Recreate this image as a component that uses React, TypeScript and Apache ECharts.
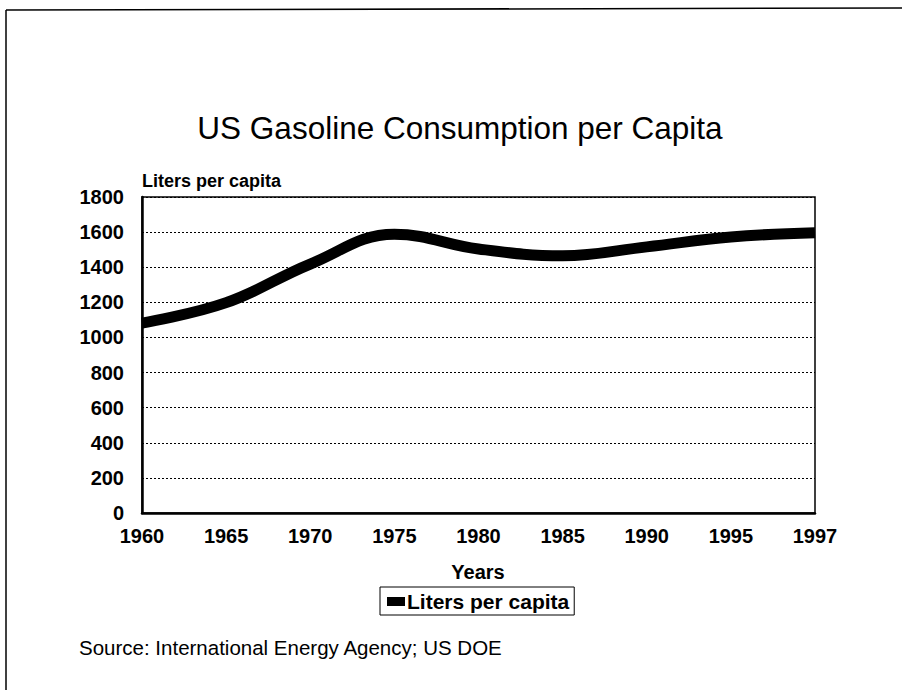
import React, { useEffect, useRef } from "react";
import * as echarts from "echarts";

const years = ["1960", "1965", "1970", "1975", "1980", "1985", "1990", "1995", "1997"];
const litersPerCapita = [1082, 1198, 1418, 1588, 1504, 1465, 1516, 1572, 1597];
const yTicks = { min: 0, max: 1800, interval: 200 };

const FONT = "'Liberation Sans', Arial, Helvetica, sans-serif";

export default function App() {
  const ref = useRef<HTMLDivElement>(null);
  useEffect(() => {
    if (!ref.current) return;
    const chart = echarts.init(ref.current, null, { renderer: "svg" });
    chart.setOption({
      animation: false,
      backgroundColor: "#ffffff",
      textStyle: { fontFamily: FONT, color: "#000" },
      grid: {
        left: 142,
        right: 87,
        top: 197,
        bottom: 177,
        show: true,
        borderColor: "#000",
        borderWidth: 1.5,
        containLabel: false,
      },
      xAxis: {
        type: "category",
        data: years,
        boundaryGap: false,
        axisLine: { show: true, lineStyle: { color: "#000", width: 2.5 } },
        axisTick: { show: false },
        axisLabel: {
          color: "#000",
          fontFamily: FONT,
          fontWeight: "bold",
          fontSize: 20,
          margin: 13,
          interval: 0,
        },
        splitLine: { show: false },
      },
      yAxis: {
        type: "value",
        min: yTicks.min,
        max: yTicks.max,
        interval: yTicks.interval,
        axisLine: { show: true, lineStyle: { color: "#000", width: 2.5 } },
        axisTick: { show: false },
        axisLabel: {
          color: "#000",
          fontFamily: FONT,
          fontWeight: "bold",
          fontSize: 20,
          margin: 18,
          formatter: (v: number) => String(v),
        },
        splitLine: {
          show: true,
          lineStyle: { color: "#000", width: 1, type: [2, 2] },
        },
      },
      legend: {
        show: true,
        left: 380,
        top: 587,
        orient: "horizontal",
        borderColor: "#000",
        borderWidth: 1,
        padding: [4, 5, 3, 7],
        itemWidth: 18,
        itemHeight: 9,
        itemGap: 4,
        icon: "rect",
        textStyle: {
          color: "#000",
          fontFamily: FONT,
          fontWeight: "bold",
          fontSize: 21,
          padding: [0, 0, 0, -3],
        },
        data: ["Liters per capita"],
      },
      series: [
        {
          name: "Liters per capita",
          type: "line",
          data: litersPerCapita,
          smooth: 0.4,
          showSymbol: false,
          symbol: "none",
          lineStyle: { color: "#000", width: 11 },
          itemStyle: { color: "#000" },
        },
      ],
      graphic: [
        {
          type: "line",
          shape: { x1: 6, y1: 10, x2: 902, y2: 8 },
          style: { stroke: "#000", lineWidth: 1.5 },
        },
        {
          type: "line",
          shape: { x1: 6, y1: 10, x2: 6, y2: 690 },
          style: { stroke: "#000", lineWidth: 1.5 },
        },
        {
          type: "text",
          x: 460,
          y: 128,
          style: {
            text: "US Gasoline Consumption per Capita",
            fontFamily: FONT,
            fontSize: 31.5,
            fill: "#000",
            textAlign: "center",
            textVerticalAlign: "middle",
          },
        },
        {
          type: "text",
          x: 142,
          y: 181,
          style: {
            text: "Liters per capita",
            fontFamily: FONT,
            fontSize: 18,
            fontWeight: "bold",
            fill: "#000",
            textAlign: "left",
            textVerticalAlign: "middle",
          },
        },
        {
          type: "text",
          x: 478,
          y: 572,
          style: {
            text: "Years",
            fontFamily: FONT,
            fontSize: 20,
            fontWeight: "bold",
            fill: "#000",
            textAlign: "center",
            textVerticalAlign: "middle",
          },
        },
        {
          type: "text",
          x: 79,
          y: 647,
          style: {
            text: "Source: International Energy Agency; US DOE",
            fontFamily: FONT,
            fontSize: 20.5,
            fill: "#000",
            textAlign: "left",
            textVerticalAlign: "middle",
          },
        },
      ],
    });
    return () => chart.dispose();
  }, []);
  return (
    <div
      ref={ref}
      style={{ position: "fixed", left: 0, top: 0, width: 902, height: 690, background: "#fff" }}
    />
  );
}
